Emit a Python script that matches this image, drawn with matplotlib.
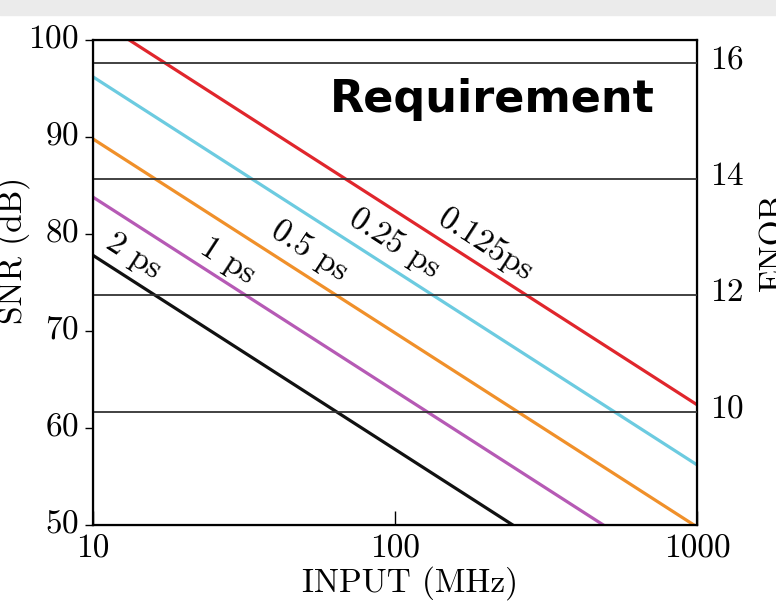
import matplotlib
matplotlib.use('Agg')
import matplotlib.pyplot as plt
from matplotlib.patches import Rectangle
from matplotlib.transforms import ScaledTranslation

plt.rcParams['font.family'] = 'cmr10'
plt.rcParams['mathtext.fontset'] = 'cm'
plt.rcParams['axes.formatter.use_mathtext'] = True

# input frequency (MHz) at the two ends of the axis
freq = [10, 1000]
# SNR (dB) read at 10 MHz and 1000 MHz for each jitter value
jitter_labels = ['2 ps', '1 ps', '0.5 ps', '0.25 ps', '0.125ps']
snr_2ps = [77.8, 37.8]
snr_1ps = [83.8, 43.8]
snr_05ps = [89.8, 49.8]
snr_025ps = [96.2, 56.2]
snr_0125ps = [102.4, 62.4]
series = [snr_2ps, snr_1ps, snr_05ps, snr_025ps, snr_0125ps]
colors = ['#111111', '#b65ab5', '#f0902a', '#6ccbe0', '#e0262c']
# label anchor positions (MHz, dB)
label_x = [13.6, 28.0, 52.0, 100.0, 200.0]
label_y = [77.7, 77.2, 78.2, 79.0, 78.9]

enob_levels = [10, 12, 14, 16]

fig = plt.figure(figsize=(7.76, 6.10), dpi=100)
fig.add_artist(Rectangle((0, 1 - 15 / 610), 1, 15 / 610, transform=fig.transFigure,
                         color='#ebebeb', zorder=0))
ax = fig.add_axes([93 / 776, 85 / 610, 604 / 776, 485 / 610])

for snr, c in zip(series, colors):
    ax.plot(freq, snr, color=c, lw=2.3, solid_capstyle='butt')

for lab, lx, ly in zip(jitter_labels, label_x, label_y):
    ax.text(lx, ly, lab, fontsize=24, rotation=-33, rotation_mode='anchor',
            ha='center', va='center')

ax.set_xscale('log')
ax.set_xlim(10, 1000)
ax.set_ylim(50, 100)
ax.set_xticks([10, 100, 1000])
ax.set_xticklabels(['10', '100', '1000'])
ax.minorticks_off()
ax.set_yticks([50, 60, 70, 80, 90, 100])
ax.tick_params(axis='x', direction='in', length=10, width=1, labelsize=24, pad=7)
ax.tick_params(axis='y', direction='out', length=6, width=1, labelsize=24, pad=4)
for s in ax.spines.values():
    s.set_linewidth(1.6)

# ENOB scale (about 6 dB per bit)
ax2 = ax.twinx()
ax2.set_ylim((50 - 1.9) / 5.98, (100 - 1.9) / 5.98)
for e in enob_levels:
    ax2.axhline(e, color='#333333', lw=1.3)
ax2.set_yticks(enob_levels)
ax2.tick_params(axis='y', length=0, labelsize=24, pad=9)

# the tick numbers sit a little above their ticks in the original
up = ScaledTranslation(0, 4 / 100, fig.dpi_scale_trans)
for lbl in ax.get_yticklabels():
    lbl.set_transform(lbl.get_transform() + up)
up2 = ScaledTranslation(0, 6 / 100, fig.dpi_scale_trans)
for lbl in ax2.get_yticklabels():
    lbl.set_transform(lbl.get_transform() + up2)

fig.text(492 / 776, 1 - 112 / 610, 'Requirement', fontsize=32,
         family='DejaVu Sans', fontweight='bold', ha='center', va='baseline')

fig.text(410 / 776, 1 - 583 / 610, 'INPUT (MHz)', fontsize=24, ha='center', va='center')
fig.text(13 / 776, 1 - 250 / 610, 'SNR (dB)', fontsize=24, rotation=90,
         ha='center', va='center')
fig.text(759 / 776, 1 - 242 / 610, 'ENOB', fontsize=24, rotation=90,
         ha='left', va='center')

fig.savefig('out.png', dpi=100)
